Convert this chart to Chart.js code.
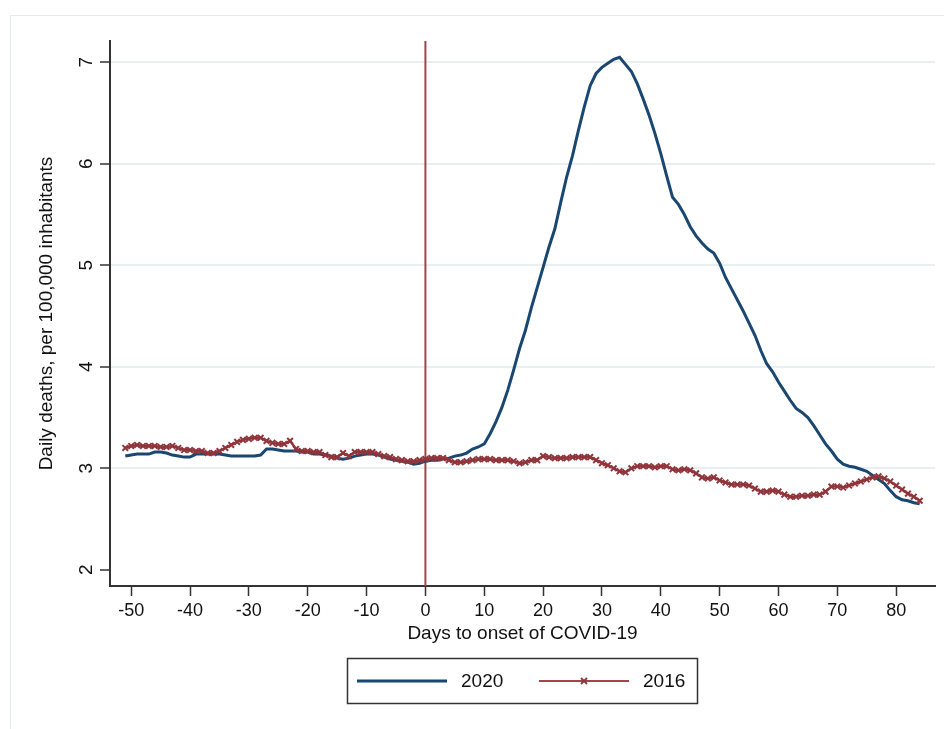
<!DOCTYPE html>
<html>
<head>
<meta charset="utf-8">
<script src="https://cdn.jsdelivr.net/npm/chart.js@4.4.1/dist/chart.umd.min.js"></script>
<style>
  html, body { margin: 0; padding: 0; background: #fff; }
  #wrap { position: relative; width: 944px; height: 729px; }
</style>
</head>
<body>
<div id="wrap"><canvas id="deathsChart"></canvas></div>
<script>
const days = [
  -51, -50, -49, -48, -47, -46, -45, -44, -43, -42,
  -41, -40, -39, -38, -37, -36, -35, -34, -33, -32,
  -31, -30, -29, -28, -27, -26, -25, -24, -23, -22,
  -21, -20, -19, -18, -17, -16, -15, -14, -13, -12,
  -11, -10, -9, -8, -7, -6, -5, -4, -3, -2,
  -1, 0, 1, 2, 3, 4, 5, 6, 7, 8,
  9, 10, 11, 12, 13, 14, 15, 16, 17, 18,
  19, 20, 21, 22, 23, 24, 25, 26, 27, 28,
  29, 30, 31, 32, 33, 34, 35, 36, 37, 38,
  39, 40, 41, 42, 43, 44, 45, 46, 47, 48,
  49, 50, 51, 52, 53, 54, 55, 56, 57, 58,
  59, 60, 61, 62, 63, 64, 65, 66, 67, 68,
  69, 70, 71, 72, 73, 74, 75, 76, 77, 78,
  79, 80, 81, 82, 83, 84
];

const deaths2020 = [
  3.12, 3.13, 3.14, 3.14, 3.14, 3.16, 3.16, 3.15, 3.13, 3.12,
  3.11, 3.11, 3.14, 3.14, 3.14, 3.14, 3.14, 3.13, 3.12, 3.12,
  3.12, 3.12, 3.12, 3.13, 3.19, 3.19, 3.18, 3.17, 3.17, 3.17,
  3.16, 3.16, 3.14, 3.14, 3.13, 3.12, 3.10, 3.09, 3.10, 3.12,
  3.13, 3.14, 3.14, 3.13, 3.11, 3.09, 3.08, 3.07, 3.06, 3.04,
  3.05, 3.07, 3.08, 3.08, 3.09, 3.10, 3.12, 3.13, 3.15, 3.19,
  3.21, 3.24, 3.34, 3.46, 3.60, 3.77, 3.97, 4.18, 4.36, 4.58,
  4.78, 4.98, 5.18, 5.36, 5.62, 5.87, 6.08, 6.33, 6.56, 6.77,
  6.89, 6.95, 6.99, 7.03, 7.05, 6.98, 6.91, 6.79, 6.64, 6.48,
  6.30, 6.10, 5.88, 5.67, 5.60, 5.50, 5.38, 5.29, 5.22, 5.16,
  5.12, 5.02, 4.88, 4.77, 4.66, 4.55, 4.43, 4.31, 4.16, 4.03,
  3.95, 3.85, 3.76, 3.67, 3.59, 3.55, 3.50, 3.42, 3.33, 3.24,
  3.17, 3.09, 3.04, 3.02, 3.01, 2.99, 2.97, 2.93, 2.89, 2.85,
  2.78, 2.72, 2.69, 2.68, 2.66, 2.65
];

const deaths2016 = [
  3.20, 3.22, 3.23, 3.22, 3.22, 3.22, 3.21, 3.21, 3.22, 3.20,
  3.18, 3.18, 3.17, 3.17, 3.15, 3.15, 3.17, 3.20, 3.23, 3.26,
  3.28, 3.29, 3.30, 3.30, 3.27, 3.25, 3.24, 3.24, 3.27, 3.19,
  3.17, 3.17, 3.16, 3.16, 3.13, 3.11, 3.11, 3.15, 3.12, 3.16,
  3.16, 3.16, 3.16, 3.14, 3.12, 3.11, 3.09, 3.08, 3.07, 3.07,
  3.08, 3.09, 3.10, 3.10, 3.10, 3.08, 3.06, 3.06, 3.07, 3.08,
  3.09, 3.09, 3.09, 3.08, 3.08, 3.08, 3.07, 3.05, 3.06, 3.08,
  3.08, 3.12, 3.11, 3.10, 3.10, 3.10, 3.11, 3.11, 3.11, 3.11,
  3.08, 3.05, 3.03, 3.00, 2.97, 2.96, 3.00, 3.02, 3.02, 3.02,
  3.01, 3.02, 3.02, 2.99, 2.98, 2.99, 2.98, 2.95, 2.91, 2.90,
  2.91, 2.88, 2.86, 2.84, 2.84, 2.84, 2.83, 2.80, 2.77, 2.77,
  2.78, 2.77, 2.74, 2.72, 2.72, 2.73, 2.73, 2.74, 2.74, 2.77,
  2.82, 2.82, 2.81, 2.83, 2.85, 2.87, 2.89, 2.91, 2.92, 2.90,
  2.87, 2.83, 2.79, 2.75, 2.72, 2.68
];

const xTicks = [-50, -40, -30, -20, -10, 0, 10, 20, 30, 40, 50, 60, 70, 80];
const yTicks = [2, 3, 4, 5, 6, 7];
const seriesNames = ["2020", "2016"];
const onsetDay = 0;

const navy = "#1a476f";
const maroon = "#90353b";
const fontFamily = "'Liberation Sans', Arial, Helvetica, sans-serif";

// frame, onset line and the boxed legend under the axis
const extras = {
  id: "extras",
  beforeDraw(chart) {
    const c = chart.ctx;
    c.save();
    c.strokeStyle = "#e6ecee";
    c.lineWidth = 1;
    c.strokeRect(10.5, 15.5, 1000, 1000);
    c.restore();
  },
  beforeDatasetsDraw(chart) {
    const { ctx: c, chartArea: a, scales: { x } } = chart;
    const px = x.getPixelForValue(onsetDay);
    c.save();
    c.strokeStyle = "#a2444c";
    c.lineWidth = 2;
    c.beginPath();
    c.moveTo(px, a.top);
    c.lineTo(px, a.bottom);
    c.stroke();
    c.restore();
  },
  afterDraw(chart) {
    const c = chart.ctx;
    const y = 681;
    c.save();
    c.strokeStyle = "#333";
    c.lineWidth = 1.5;
    c.strokeRect(347.5, 658.5, 350, 45);

    c.strokeStyle = navy;
    c.lineWidth = 3;
    c.beginPath(); c.moveTo(357, y); c.lineTo(447, y); c.stroke();

    c.strokeStyle = "#a2444c";
    c.lineWidth = 2;
    c.beginPath(); c.moveTo(539, y); c.lineTo(629, y); c.stroke();
    c.strokeStyle = maroon;
    c.lineWidth = 1.8;
    c.beginPath();
    c.moveTo(581, y - 3); c.lineTo(587, y + 3);
    c.moveTo(587, y - 3); c.lineTo(581, y + 3);
    c.stroke();

    c.fillStyle = "#111";
    c.font = "19px " + fontFamily;
    c.textBaseline = "middle";
    c.fillText(seriesNames[0], 461, y + 1);
    c.fillText(seriesNames[1], 643, y + 1);
    c.restore();
  }
};

const chartCtx = document.getElementById("deathsChart").getContext("2d");

new Chart(chartCtx, {
  type: "line",
  data: {
    datasets: [
      {
        label: seriesNames[0],
        data: days.map((d, i) => ({ x: d, y: deaths2020[i] })),
        borderColor: navy,
        borderWidth: 3,
        pointRadius: 0,
        order: 1
      },
      {
        label: seriesNames[1],
        data: days.map((d, i) => ({ x: d, y: deaths2016[i] })),
        borderColor: maroon,
        borderWidth: 2.5,
        pointStyle: "crossRot",
        pointRadius: 4,
        pointBorderWidth: 2,
        pointBorderColor: maroon,
        pointBackgroundColor: maroon,
        order: 0
      }
    ]
  },
  options: {
    responsive: true,
    maintainAspectRatio: false,
    animation: false,
    layout: { padding: { top: 41, right: 9, bottom: 80, left: 0 } },
    plugins: {
      legend: { display: false },
      tooltip: { enabled: false }
    },
    scales: {
      x: {
        type: "linear",
        min: -53.6,
        max: 86.6,
        afterBuildTicks: s => { s.ticks = xTicks.map(v => ({ value: v })); },
        afterFit: s => { s.height = 63; },
        grid: {
          drawOnChartArea: false,
          tickLength: 10,
          tickColor: "#333",
          tickWidth: 1.5
        },
        border: { color: "#333", width: 2 },
        ticks: {
          color: "#111",
          font: { size: 18, family: fontFamily },
          padding: 4,
          maxRotation: 0,
          autoSkip: false
        },
        title: {
          display: true,
          text: "Days to onset of COVID-19",
          color: "#111",
          font: { size: 19, family: fontFamily },
          padding: { top: 0, bottom: 4 }
        }
      },
      y: {
        min: 1.84,
        max: 7.21,
        afterBuildTicks: s => { s.ticks = yTicks.map(v => ({ value: v })); },
        afterFit: s => { s.width = 110; },
        grid: {
          color: c => (c.tick && c.tick.value === 2 ? "rgba(0,0,0,0)" : "#e7eff1"),
          lineWidth: 2,
          tickLength: 10,
          tickColor: "#333",
          tickWidth: 1.5
        },
        border: { color: "#333", width: 2 },
        ticks: {
          color: "#111",
          font: { size: 19, family: fontFamily },
          minRotation: 90,
          maxRotation: 90,
          crossAlign: "center",
          padding: 8
        },
        title: {
          display: true,
          text: "Daily deaths, per 100,000 inhabitants",
          color: "#111",
          font: { size: 19, family: fontFamily },
          padding: { top: 35, bottom: 0 }
        }
      }
    }
  },
  plugins: [extras]
});
</script>
</body>
</html>
